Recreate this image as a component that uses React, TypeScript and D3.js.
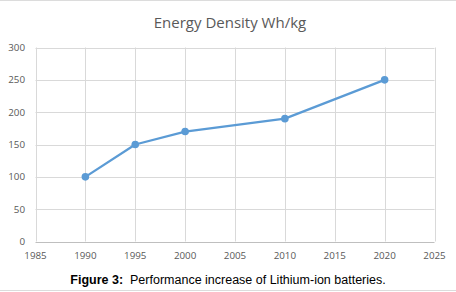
import React from "react";
import * as d3 from "d3";

const years = [1990, 1995, 2000, 2010, 2020];
const energyDensity = [100, 150, 170, 190, 250];
const xTicks = [1985, 1990, 1995, 2000, 2005, 2010, 2015, 2020, 2025];
const yTicks = [0, 50, 100, 150, 200, 250, 300];
const title = "Energy Density Wh/kg";
const captionBold = "Figure 3:";
const captionRest = "  Performance increase of Lithium-ion batteries.";

export default function App() {
  const W = 456, H = 292;
  const x = d3.scaleLinear().domain([1985, 2025]).range([35.5, 434.5]);
  const y = d3.scaleLinear().domain([0, 300]).range([241.5, 47.5]);
  const pts = years.map((yr, i) => [x(yr), y(energyDensity[i])] as [number, number]);
  const line = d3.line()(pts) || "";
  const font = "'Open Sans', 'Noto Sans', sans-serif";
  return (
    <svg width={W} height={H} style={{ position: "absolute", left: 0, top: 0, background: "#fff" }}>
      <rect x={0} y={0} width={W} height={H} fill="#fff" />
      <line x1={0} x2={W} y1={0.5} y2={0.5} stroke="#dcdcdc" />
      <line x1={0} x2={W} y1={290.5} y2={290.5} stroke="#dcdcdc" />
      {yTicks.map((t) => (
        <line key={"hy" + t} x1={x(1985)} x2={x(2025)} y1={Math.round(y(t)) + 0.5} y2={Math.round(y(t)) + 0.5}
          stroke={t === 0 ? "#bfbfbf" : "#d9d9d9"} strokeWidth={1} />
      ))}
      {xTicks.map((t) => (
        <line key={"vx" + t} x1={Math.round(x(t)) + 0.5} x2={Math.round(x(t)) + 0.5} y1={y(300)} y2={y(0)}
          stroke="#d9d9d9" strokeWidth={1} />
      ))}
      {yTicks.map((t) => (
        <text key={"yl" + t} x={25} y={y(t) + 3.5} textAnchor="end" fontSize={9.8} fill="#595959" fontFamily={font}>
          {t}
        </text>
      ))}
      {xTicks.map((t) => (
        <text key={"xl" + t} x={x(t)} y={259} textAnchor="middle" fontSize={9.8} fill="#595959" fontFamily={font}>
          {t}
        </text>
      ))}
      <path d={line} fill="none" stroke="#5b9bd5" strokeWidth={2.25} strokeLinejoin="round" />
      {pts.map((p, i) => (
        <circle key={"pt" + i} cx={p[0]} cy={p[1]} r={3.8} fill="#5b9bd5" />
      ))}
      <text x={230} y={28} textAnchor="middle" fontSize={15} fill="#595959" fontFamily={font}>
        {title}
      </text>
      <text x={228} y={284} textAnchor="middle" fontSize={12.5} fill="#000" fontFamily="'Liberation Sans', Arial, sans-serif" style={{ whiteSpace: "pre" }}>
        <tspan fontWeight="bold">{captionBold}</tspan>
        <tspan>{captionRest}</tspan>
      </text>
    </svg>
  );
}
